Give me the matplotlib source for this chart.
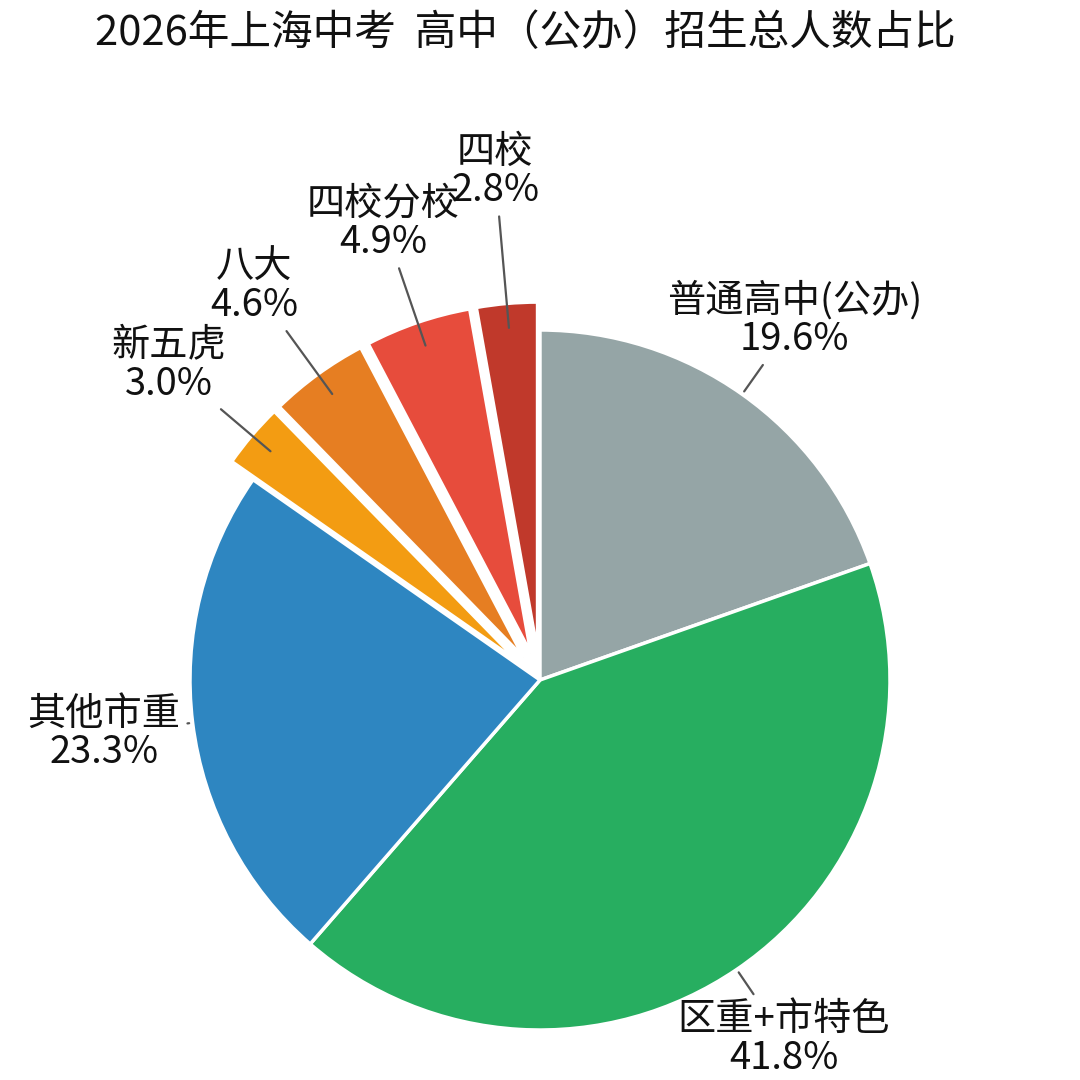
import matplotlib.pyplot as plt
import numpy as np

plt.rcParams['font.family'] = ['Noto Sans CJK SC', 'DejaVu Sans']

# data, clockwise from 12 o'clock
categories = ['普通高中(公办)', '区重+市特色', '其他市重', '新五虎', '八大', '四校分校', '四校']
shares = [19.6, 41.8, 23.3, 3.0, 4.6, 4.9, 2.8]
colors = ['#95a5a6', '#27ae60', '#2e86c1', '#f39c12', '#e67e22', '#e74c3c', '#c0392b']
title = '2026年上海中考  高中（公办）招生总人数占比'

# layout: the small slices are pulled out, labels sit further out for them
explode = [0, 0, 0, 0.08, 0.08, 0.08, 0.08]
label_r = [1.26, 1.24, 1.255, 1.39, 1.39, 1.38, 1.46]

fig = plt.figure(figsize=(10.8, 10.8), dpi=100)
ax = fig.add_axes([0, 0, 1, 1])

wedges, _ = ax.pie(shares, colors=colors, startangle=90, counterclock=False,
                   explode=explode, radius=1,
                   wedgeprops=dict(edgecolor='white', linewidth=2.5))

# pie centre at (540, 680) px, radius 350 px
ax.set_xlim(-540 / 350, 540 / 350)
ax.set_ylim(-400 / 350, 680 / 350)
ax.set_aspect('equal')
ax.axis('off')

for w, cat, v, r in zip(wedges, categories, shares, label_r):
    ang = np.deg2rad((w.theta1 + w.theta2) / 2)
    ax.annotate(f'{cat}\n{v:.1f}%',
                xy=(1.01 * np.cos(ang), 1.01 * np.sin(ang)),
                xytext=(r * np.cos(ang), r * np.sin(ang)),
                ha='center', va='center', fontsize=27.5, linespacing=0.97,
                color='#111111',
                arrowprops=dict(arrowstyle='-', color='#555555', lw=1.6,
                                shrinkA=3, shrinkB=0))

fig.text(0.486, 0.969, title, ha='center', va='center', fontsize=30, color='#111111')

fig.savefig('out.png', dpi=100)
